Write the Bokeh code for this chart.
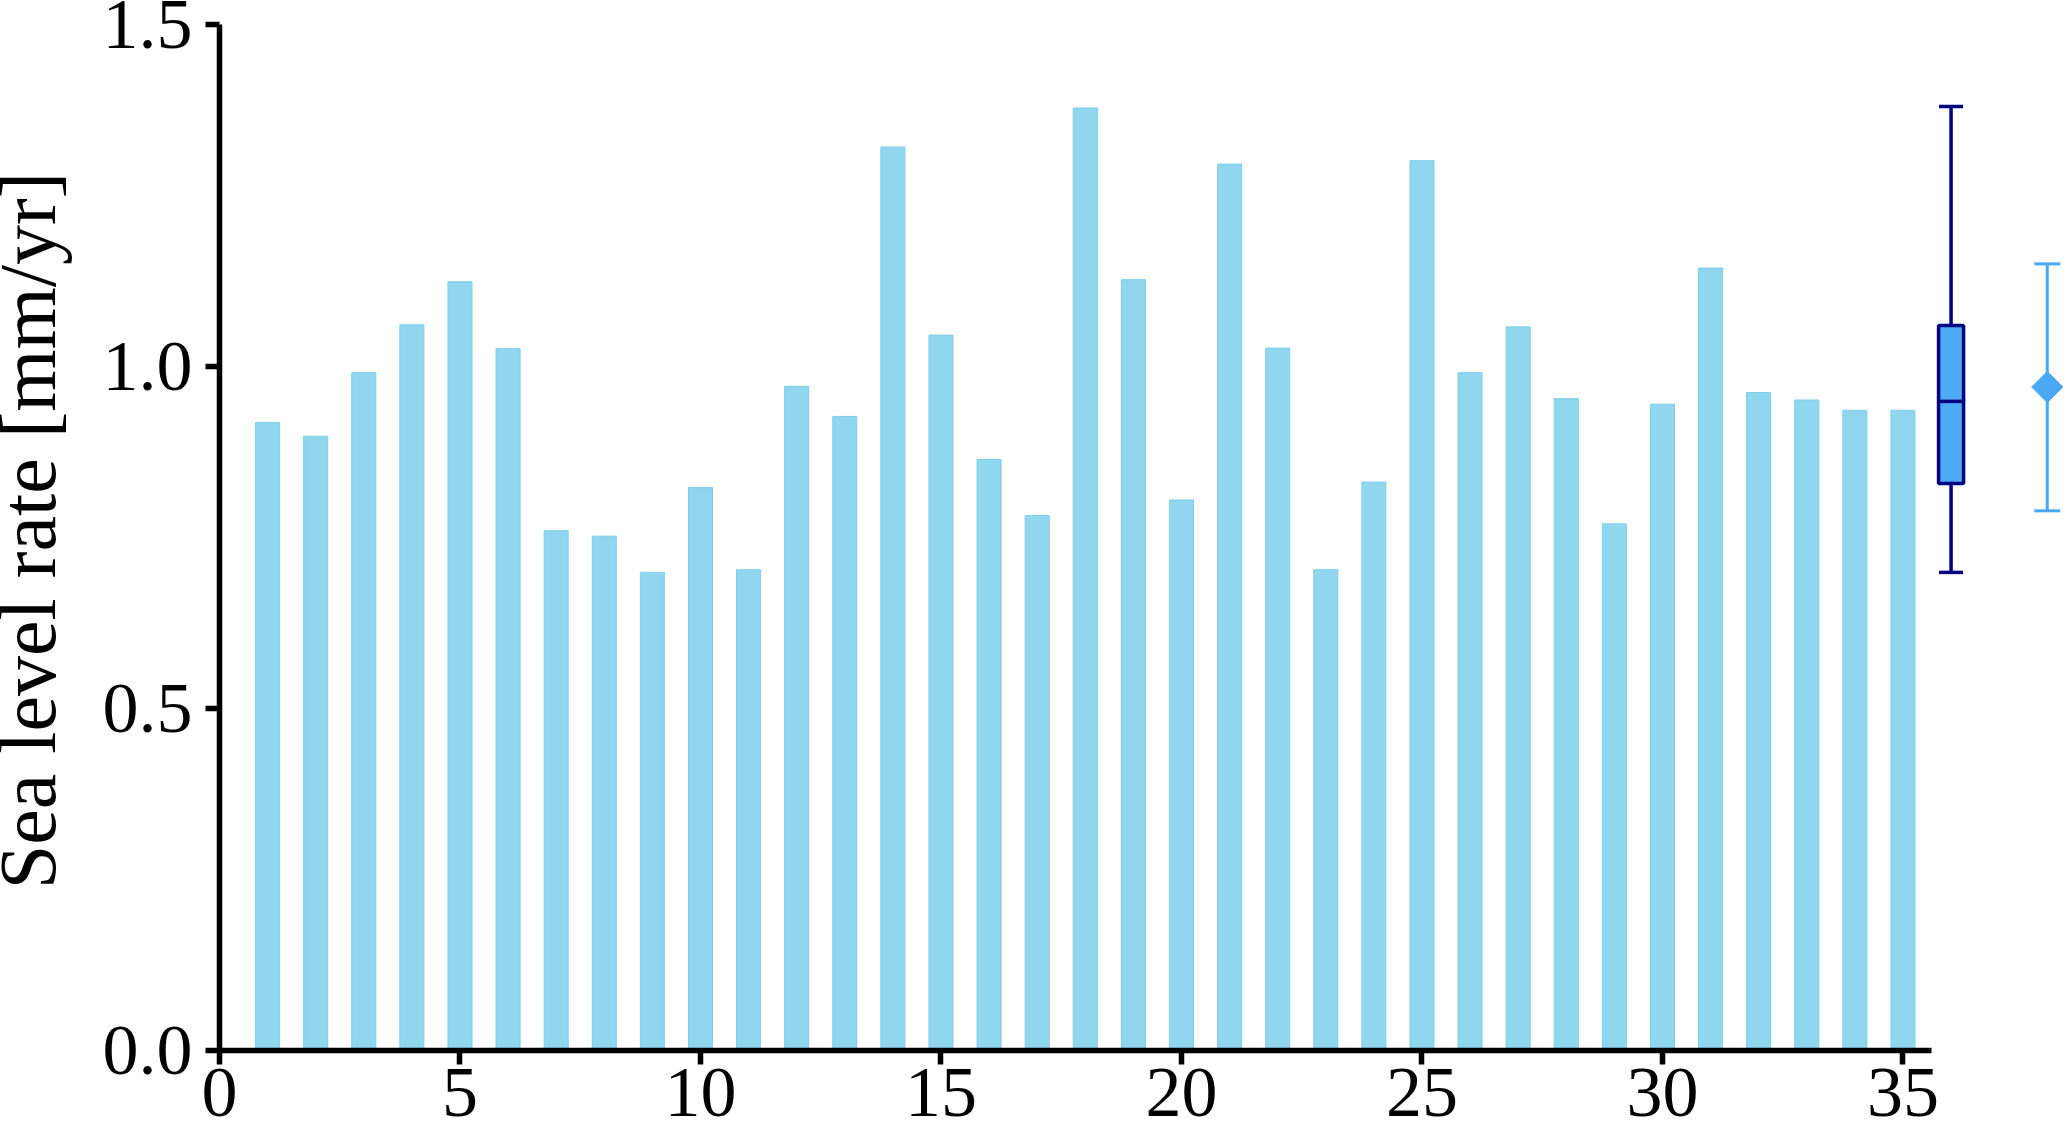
import math
from bokeh.plotting import figure
from bokeh.models import Range1d, FixedTicker, NumeralTickFormatter
from bokeh.embed import file_html
from bokeh.resources import INLINE

# ---- data ----
station = list(range(1, 36))
rates = [0.918, 0.898, 0.991, 1.061, 1.124, 1.026, 0.760, 0.752, 0.699, 0.823,
         0.703, 0.971, 0.927, 1.321, 1.046, 0.864, 0.782, 1.378, 1.127, 0.805,
         1.296, 1.027, 0.703, 0.831, 1.301, 0.991, 1.058, 0.953, 0.770, 0.945,
         1.144, 0.962, 0.951, 0.936, 0.936]

box_min = 0.699
box_q1 = 0.829
box_median = 0.949
box_q3 = 1.060
box_max = 1.380

mean_value = 0.970
mean_low = 0.789
mean_high = 1.150

x_ticks = [0, 5, 10, 15, 20, 25, 30, 35]
y_ticks = [0.0, 0.5, 1.0, 1.5]
y_label = "Sea level rate [mm/yr]"

# ---- styling ----
FONT = "Liberation Serif"
BAR_FILL = "#8FD6EE"
BAR_LINE = "#7FCEEB"
BOX_FILL = "#4DABF5"
BOX_LINE = "#000080"
MEAN_COL = "#4AA8F5"

BOX_X = 36
MEAN_X = 38

SHIFT = 22  # figure is pulled left so the axis title sits at the page edge

p = figure(width=2066 + SHIFT, height=1129, output_backend="svg", toolbar_location=None,
           x_range=Range1d(0, 38.4), y_range=Range1d(0, 1.5205),
           min_border_left=219 + SHIFT, min_border_right=0, min_border_top=10,
           min_border_bottom=79)
p.margin = (0, 0, 0, -SHIFT)
p.outline_line_color = None
p.grid.visible = False
p.background_fill_color = "white"
p.border_fill_color = "white"

# bars
p.vbar(x=station, top=rates, bottom=0, width=0.5,
       fill_color=BAR_FILL, line_color=BAR_LINE, line_width=1)

# box plot summary
p.vbar(x=[BOX_X], bottom=[box_q1], top=[box_q3], width=0.52,
       fill_color=BOX_FILL, line_color=BOX_LINE, line_width=3.5)
p.segment(x0=[BOX_X - 0.26], x1=[BOX_X + 0.26], y0=[box_median], y1=[box_median],
          line_color=BOX_LINE, line_width=3.5)
p.segment(x0=[BOX_X, BOX_X], x1=[BOX_X, BOX_X], y0=[box_q3, box_q1], y1=[box_max, box_min],
          line_color=BOX_LINE, line_width=3.5)
p.segment(x0=[BOX_X - 0.25, BOX_X - 0.25], x1=[BOX_X + 0.25, BOX_X + 0.25],
          y0=[box_max, box_min], y1=[box_max, box_min],
          line_color=BOX_LINE, line_width=3.5)

# mean +/- error
p.segment(x0=[MEAN_X], x1=[MEAN_X], y0=[mean_low], y1=[mean_high],
          line_color=MEAN_COL, line_width=3)
p.segment(x0=[MEAN_X - 0.27, MEAN_X - 0.27], x1=[MEAN_X + 0.27, MEAN_X + 0.27],
          y0=[mean_low, mean_high], y1=[mean_low, mean_high],
          line_color=MEAN_COL, line_width=3)
p.scatter(x=[MEAN_X], y=[mean_value], marker="square", angle=math.pi / 4,
          size=22, fill_color=MEAN_COL, line_color=MEAN_COL)

# axes
p.xaxis.ticker = FixedTicker(ticks=x_ticks)
p.yaxis.ticker = FixedTicker(ticks=y_ticks)
p.yaxis.formatter = NumeralTickFormatter(format="0.0")
p.xaxis.bounds = (0, 35.6)
p.yaxis.bounds = (0, 1.5)
for ax in (p.xaxis, p.yaxis):
    ax.axis_line_width = 5.5
    ax.axis_line_color = "black"
    ax.major_tick_line_width = 5.5
    ax.major_tick_line_color = "black"
    ax.major_tick_out = 14
    ax.major_tick_in = 0
    ax.minor_tick_out = 0
    ax.minor_tick_in = 0
    ax.major_label_text_font = FONT
    ax.major_label_text_font_size = "72px"
    ax.major_label_text_color = "black"
    ax.major_label_standoff = 13
p.xaxis.major_label_standoff = 4

p.yaxis.axis_label = y_label
p.yaxis.axis_label_text_font = FONT
p.yaxis.axis_label_text_font_size = "80px"
p.yaxis.axis_label_text_font_style = "normal"
p.yaxis.axis_label_text_color = "black"
p.yaxis.axis_label_standoff = 28

open("out.html", "w").write(file_html(p, INLINE))
